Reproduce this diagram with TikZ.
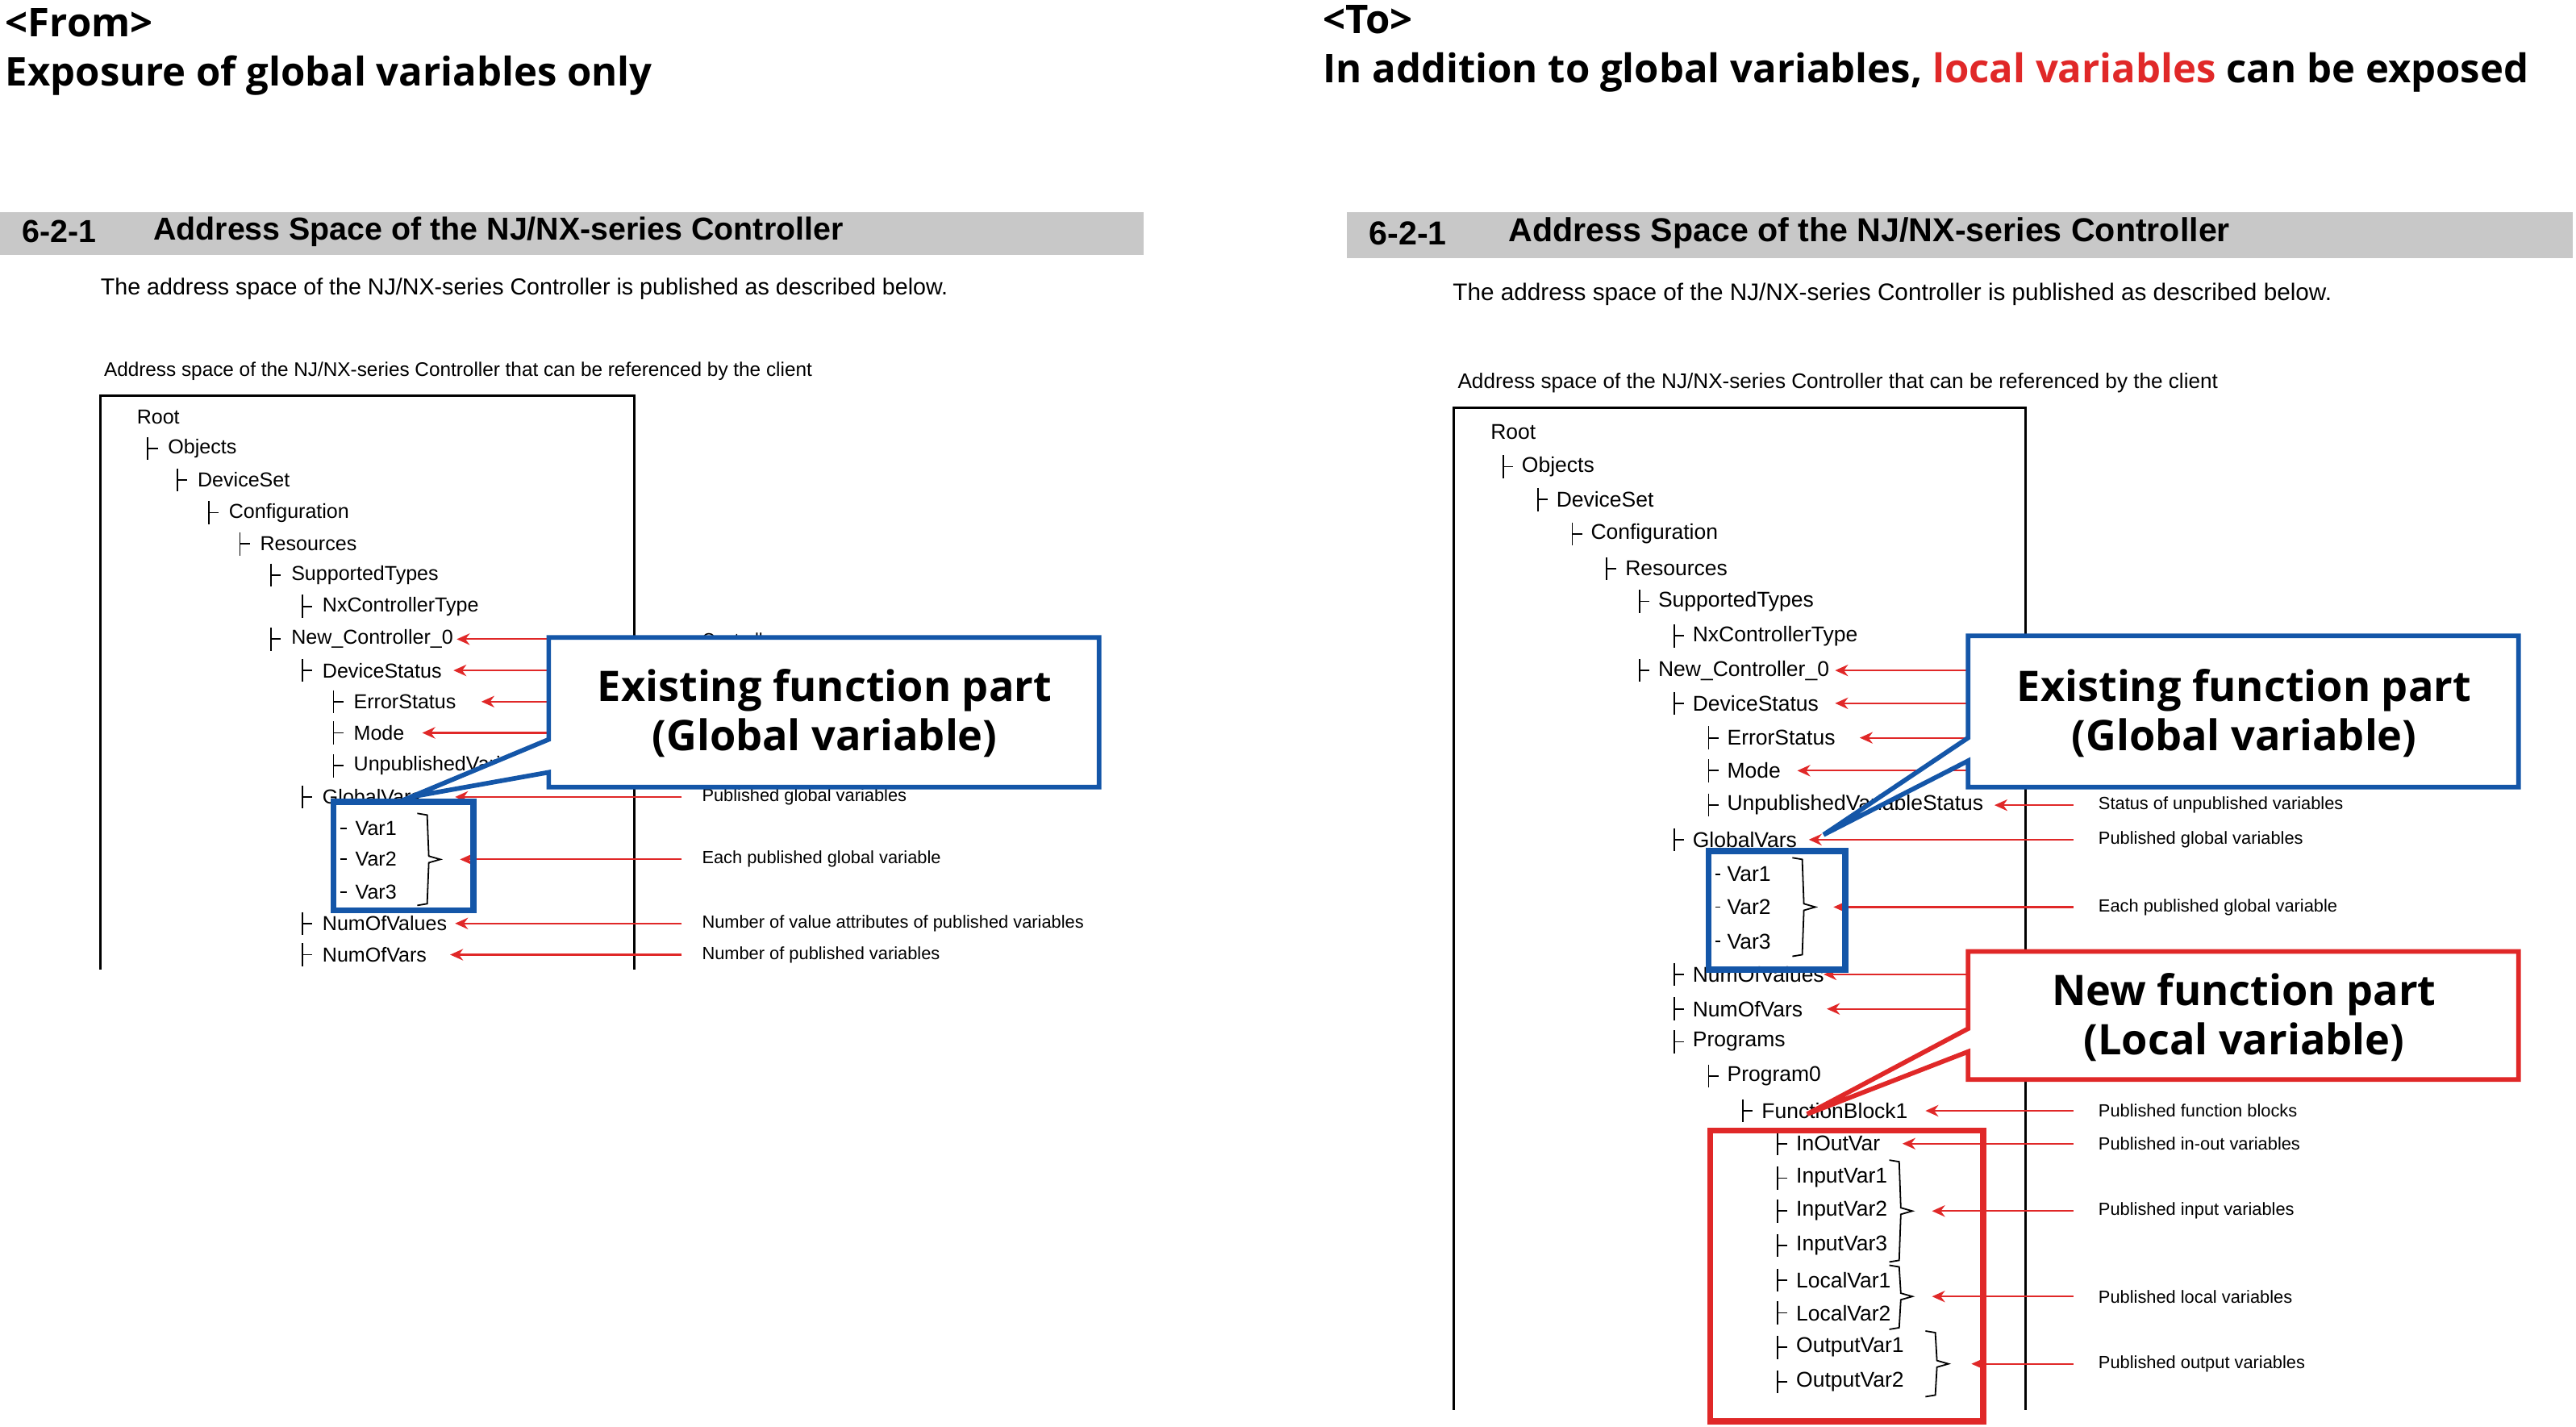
\documentclass[tikz,border=0pt]{standalone}
\usepackage{fontspec}
\setmainfont{Liberation Sans}
\newfontfamily\segoe{Open Sans}
\usetikzlibrary{arrows.meta}
\definecolor{cred}{HTML}{E02828}
\definecolor{cblue}{HTML}{1456A8}
\definecolor{cgray}{HTML}{C8C8C8}
\begin{document}
\begin{tikzpicture}[x=0.02cm,y=-0.02cm,
  tr/.style={anchor=west,inner sep=0,font=\fontsize{7}{8}\selectfont},
  trr/.style={anchor=west,inner sep=0,font=\fontsize{7.4}{8}\selectfont},
  lab/.style={anchor=west,inner sep=0,font=\fontsize{6.1}{7}\selectfont},
  rarr/.style={draw=cred,line width=0.6pt,-{Stealth[length=4.5pt,width=4pt]}},
  callb/.style={draw=cblue,line width=1.6pt,fill=white},
  callr/.style={draw=cred,line width=1.6pt,fill=white},
  ctext/.style={font=\segoe\fontsize{14.6}{17}\selectfont\bfseries,align=center},
  frame/.style={line width=0.8pt},
  brace/.style={line width=0.5pt}]
\useasboundingbox (0,0) rectangle (1568,868);
% titles
\node[anchor=west,inner sep=0,font=\segoe\fontsize{13.7}{15}\selectfont\bfseries] (fromt) at (3,14) {<From>};
\node[anchor=west,inner sep=0,font=\segoe\fontsize{13.7}{15}\selectfont\bfseries] (froms) at (3,46) {Exposure of global variables only};
\node[anchor=west,inner sep=0,font=\segoe\fontsize{13.7}{15}\selectfont\bfseries] (tot) at (805,12) {<To>};
\node[anchor=west,inner sep=0,font=\segoe\fontsize{13.7}{15}\selectfont\bfseries] (tos) at (805,44) {In addition to global variables, \textcolor{cred}{local variables} can be exposed};
% ===== LEFT =====
\fill[cgray] (0,129) rectangle (696,155);
\node[anchor=west,inner sep=0,font=\fontsize{11}{12}\selectfont\bfseries] (lh1) at (13,141) {6-2-1};
\node[anchor=west,inner sep=0,font=\fontsize{11}{12}\selectfont\bfseries] (lh2) at (93,141) {Address Space of the NJ/NX-series Controller};
\node[anchor=west,inner sep=0,font=\fontsize{8}{9}\selectfont] (ld) at (61,176) {The address space of the NJ/NX-series Controller is published as described below.};
\node[anchor=west,inner sep=0,font=\fontsize{6.8}{7}\selectfont] (lc) at (63,226) {Address space of the NJ/NX-series Controller that can be referenced by the client};
\draw[frame] (61,590) -- (61,241) -- (386,241) -- (386,590);
\foreach \tx/\y/\t/\n in {90/273/Objects/a,108/292/DeviceSet/b,127/312/Configuration/c,146/331/Resources/d,165/350/SupportedTypes/e,184/369/NxControllerType/f,165/389/New\_Controller\_0/g,184/408/DeviceStatus/h,203/427/ErrorStatus/i,203/446/Mode/j,203/466/UnpublishedVariableStatus/k,184/485/GlobalVars/l,184/562/NumOfValues/m,184/581/NumOfVars/n}{
  \draw[line width=0.5pt] (\tx,\y-7) -- (\tx,\y+7) (\tx,\y) -- (\tx+6,\y);
  \node[tr] (L\n) at (\tx+12,\y) {\t};
}
\node[tr] (Lroot) at (83,254) {Root};
\foreach \y/\t/\n in {504/Var1/v1,523/Var2/v2,543/Var3/v3}{
  \draw[line width=0.5pt] (207,\y) -- (211,\y);
  \node[tr] (L\n) at (216,\y) {\t};
}
\draw[brace] (254,495) -- (260,496) -- (261,521) -- (268,523) -- (261,525) -- (260,550) -- (254,551);
\foreach \y/\tip in {389/278,408/276,427/293,446/257,466/330,485/277,523/280,562/277,581/274}{
  \draw[rarr] (415,\y) -- (\tip,\y);
}
\node[lab] (ll1) at (427,389) {Controller};
\node[lab] (ll2) at (427,485) {Published global variables};
\node[lab] (ll3) at (427,523) {Each published global variable};
\node[lab] (ll4) at (427,562) {Number of value attributes of published variables};
\node[lab] (ll5) at (427,581) {Number of published variables};
\draw[cblue,line width=2.2pt] (203,488) rectangle (288,554);
\draw[callb] (334,388) -- (669,388) -- (669,479) -- (334,479) -- (334,470) -- (250,485) -- (334,450) -- cycle;
\node[ctext] (lct) at (502,434) {Existing function part\\(Global variable)};
% ===== RIGHT =====
\fill[cgray] (820,129) rectangle (1566,157);
\node[anchor=west,inner sep=0,font=\fontsize{11.5}{12}\selectfont\bfseries] (rh1) at (833,142) {6-2-1};
\node[anchor=west,inner sep=0,font=\fontsize{11.5}{12}\selectfont\bfseries] (rh2) at (918,142) {Address Space of the NJ/NX-series Controller};
\node[anchor=west,inner sep=0,font=\fontsize{8.3}{9}\selectfont] (rd) at (884,179) {The address space of the NJ/NX-series Controller is published as described below.};
\node[anchor=west,inner sep=0,font=\fontsize{7.3}{8}\selectfont] (rc) at (887,233) {Address space of the NJ/NX-series Controller that can be referenced by the client};
\draw[frame] (885,858) -- (885,248) -- (1233,248) -- (1233,858);
\node[trr] (Rroot) at (907,263) {Root};
\foreach \tx/\y/\t/\n in {915/284/Objects/a,936/304/DeviceSet/b,957/325/Configuration/c,978/346/Resources/d,998/366/SupportedTypes/e,1019/387/NxControllerType/f,998/408/New\_Controller\_0/g,1019/428/DeviceStatus/h,1040/449/ErrorStatus/i,1040/469/Mode/j,1040/490/UnpublishedVariableStatus/k,1019/511/GlobalVars/l,1019/593/NumOfValues/m,1019/614/NumOfVars/n,1019/634/Programs/o,1040/655/Program0/p,1061/676/FunctionBlock1/q,1082/696/InOutVar/r,1082/717/InputVar1/s,1082/737/InputVar2/t,1082/758/InputVar3/u,1082/779/LocalVar1/w,1082/799/LocalVar2/x,1082/820/OutputVar1/y,1082/841/OutputVar2/z}{
  \draw[line width=0.5pt] (\tx,\y-7) -- (\tx,\y+7) (\tx,\y) -- (\tx+6,\y);
  \node[trr] (R\n) at (\tx+11,\y) {\t};
}
\foreach \y/\t/\n in {532/Var1/v1,552/Var2/v2,573/Var3/v3}{
  \draw[line width=0.5pt] (1044,\y) -- (1047,\y);
  \node[trr] (R\n) at (1051,\y) {\t};
}
\draw[brace] (1091,522) -- (1097,523) -- (1098,550) -- (1105,552) -- (1098,554) -- (1097,581) -- (1091,582);
\draw[brace] (1150,706) -- (1156,707) -- (1157,735) -- (1164,737) -- (1157,739) -- (1156,767) -- (1150,768);
\draw[brace] (1150,770) -- (1156,771) -- (1157,787) -- (1164,789) -- (1157,791) -- (1156,808) -- (1150,809);
\draw[brace] (1172,810) -- (1178,811) -- (1179,828) -- (1186,830) -- (1179,832) -- (1178,849) -- (1172,850);
\foreach \y/\tip in {408/1117,428/1117,449/1132,469/1094,490/1214,511/1101,552/1116,593/1110,614/1112,676/1172,696/1158,737/1176,789/1176,830/1200}{
  \draw[rarr] (1262,\y) -- (\tip,\y);
}
\node[lab] (rl1) at (1277,490) {Status of unpublished variables};
\node[lab] (rl2) at (1277,511) {Published global variables};
\node[lab] (rl3) at (1277,552) {Each published global variable};
\node[lab] (rl4) at (1277,676) {Published function blocks};
\node[lab] (rl5) at (1277,696) {Published in-out variables};
\node[lab] (rl6) at (1277,737) {Published input variables};
\node[lab] (rl7) at (1277,789) {Published local variables};
\node[lab] (rl8) at (1277,830) {Published output variables};
\draw[cblue,line width=2.2pt] (1040,518) rectangle (1123,590);
\draw[cred,line width=2.2pt] (1041,688) rectangle (1207,865);
\draw[callb] (1198,387) -- (1533,387) -- (1533,479) -- (1198,479) -- (1198,463) -- (1110,508) -- (1198,449) -- cycle;
\node[ctext] (rct1) at (1366,434) {Existing function part\\(Global variable)};
\draw[callr] (1198,579) -- (1533,579) -- (1533,657) -- (1198,657) -- (1198,640) -- (1100,678) -- (1198,626) -- cycle;
\node[ctext] (rct2) at (1366,619) {New function part\\(Local variable)};
\end{tikzpicture}
\end{document}
